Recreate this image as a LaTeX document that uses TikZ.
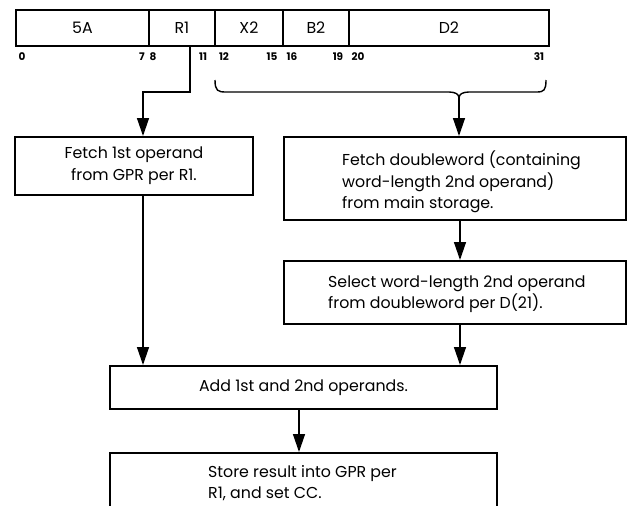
\documentclass[tikz,border=0pt]{standalone}
\usepackage{fontspec}
\setmainfont{Poppins}
\usetikzlibrary{arrows.meta}
\begin{document}
\begin{tikzpicture}[x=1pt,y=-1pt,
  box/.style={draw, line width=2pt, inner sep=0pt, anchor=north west, align=center,
    font=\fontsize{15.8}{22}\selectfont},
  field/.style={draw, line width=1.8pt, inner sep=0pt, anchor=north west,
    minimum height=36pt, font=\fontsize{15.8}{17}\selectfont},
  bit/.style={font=\bfseries\fontsize{10.5}{11}\selectfont, inner sep=0pt},
  txt/.style={anchor=west, align=left, inner sep=0pt, font=\fontsize{15.8}{21.5}\selectfont},
  link/.style={line width=1.4pt},
  flow/.style={link, -{Triangle[length=18pt,width=12pt]}}
]
\useasboundingbox (0,0) rectangle (630,506);
\clip (0,0) rectangle (630,506);

% instruction format fields
\node[field, minimum width=133pt] (f5A) at (15,9) {5A};
\node[field, minimum width=66pt]  (fR1) at (148,9) {R1};
\node[field, minimum width=68pt]  (fX2) at (214,9) {X2};
\node[field, minimum width=66pt]  (fB2) at (282,9) {B2};
\node[field, minimum width=200pt] (fD2) at (348,9) {D2};

% bit positions
\node[bit] (b0)  at (22,57)  {0};
\node[bit] (b7)  at (142,57) {7};
\node[bit] (b8)  at (153,57) {8};
\node[bit] (b11) at (203,57) {11};
\node[bit] (b12) at (224,57) {12};
\node[bit] (b15) at (272,57) {15};
\node[bit] (b16) at (292,57) {16};
\node[bit] (b19) at (338,57) {19};
\node[bit] (b20) at (358,57) {20};
\node[bit] (b31) at (539,57) {31};

% process boxes
\node[box, minimum width=238pt, minimum height=58pt] (fetchA) at (14,136)
  {Fetch 1st operand\\from GPR per R1.};
\node[box, minimum width=342pt, minimum height=83pt] (fetchDW) at (283,136) {};
\node[txt] (tDW) at (342,182)
  {Fetch doubleword (containing\\word-length 2nd operand)\\from main storage.};
\node[box, minimum width=342pt, minimum height=63pt] (select) at (283,260) {};
\node[txt] (tSel) at (328,294)
  {Select word-length 2nd operand\\from doubleword per D(21).};
\node[box, minimum width=387pt, minimum height=43pt] (add) at (109,365)
  {Add 1st and 2nd operands.};
\node[box, minimum width=387pt, minimum height=100pt] (store) at (109,452) {};
\node[txt] (tSt) at (208,483)
  {Store result into GPR per\\R1, and set CC.};

% connector columns and taps
\coordinate (colA) at (143,0);
\coordinate (colB) at (460,0);
\coordinate (colC) at (299,0);
\coordinate (r1tap) at (190,45);
\coordinate (r1bend) at (190,92);
\coordinate (brL) at (215,80);
\coordinate (brR) at (546,80);
\coordinate (brtip) at (459,98);

% R1 feed
\draw[flow] (r1tap) -- (r1bend) -- (r1bend -| colA) -- (fetchA.north -| colA);

% brace under X2, B2, D2
\draw[link] (brL) .. controls (215,91) and (218,92) .. (226,92) -- (449,92)
  .. controls (455,92) and (459,94) .. (brtip)
  .. controls (459,94) and (463,92) .. (469,92) -- (537,92)
  .. controls (544,92) and (546,90) .. (brR);
\draw[flow] (brtip) -- (fetchDW.north -| brtip);

% flow between boxes
\draw[flow] (fetchDW.south -| colB) -- (select.north -| colB);
\draw[flow] (fetchA.south -| colA) -- (add.north -| colA);
\draw[flow] (select.south -| colB) -- (add.north -| colB);
\draw[flow] (add.south -| colC) -- (store.north -| colC);
\end{tikzpicture}
\end{document}
